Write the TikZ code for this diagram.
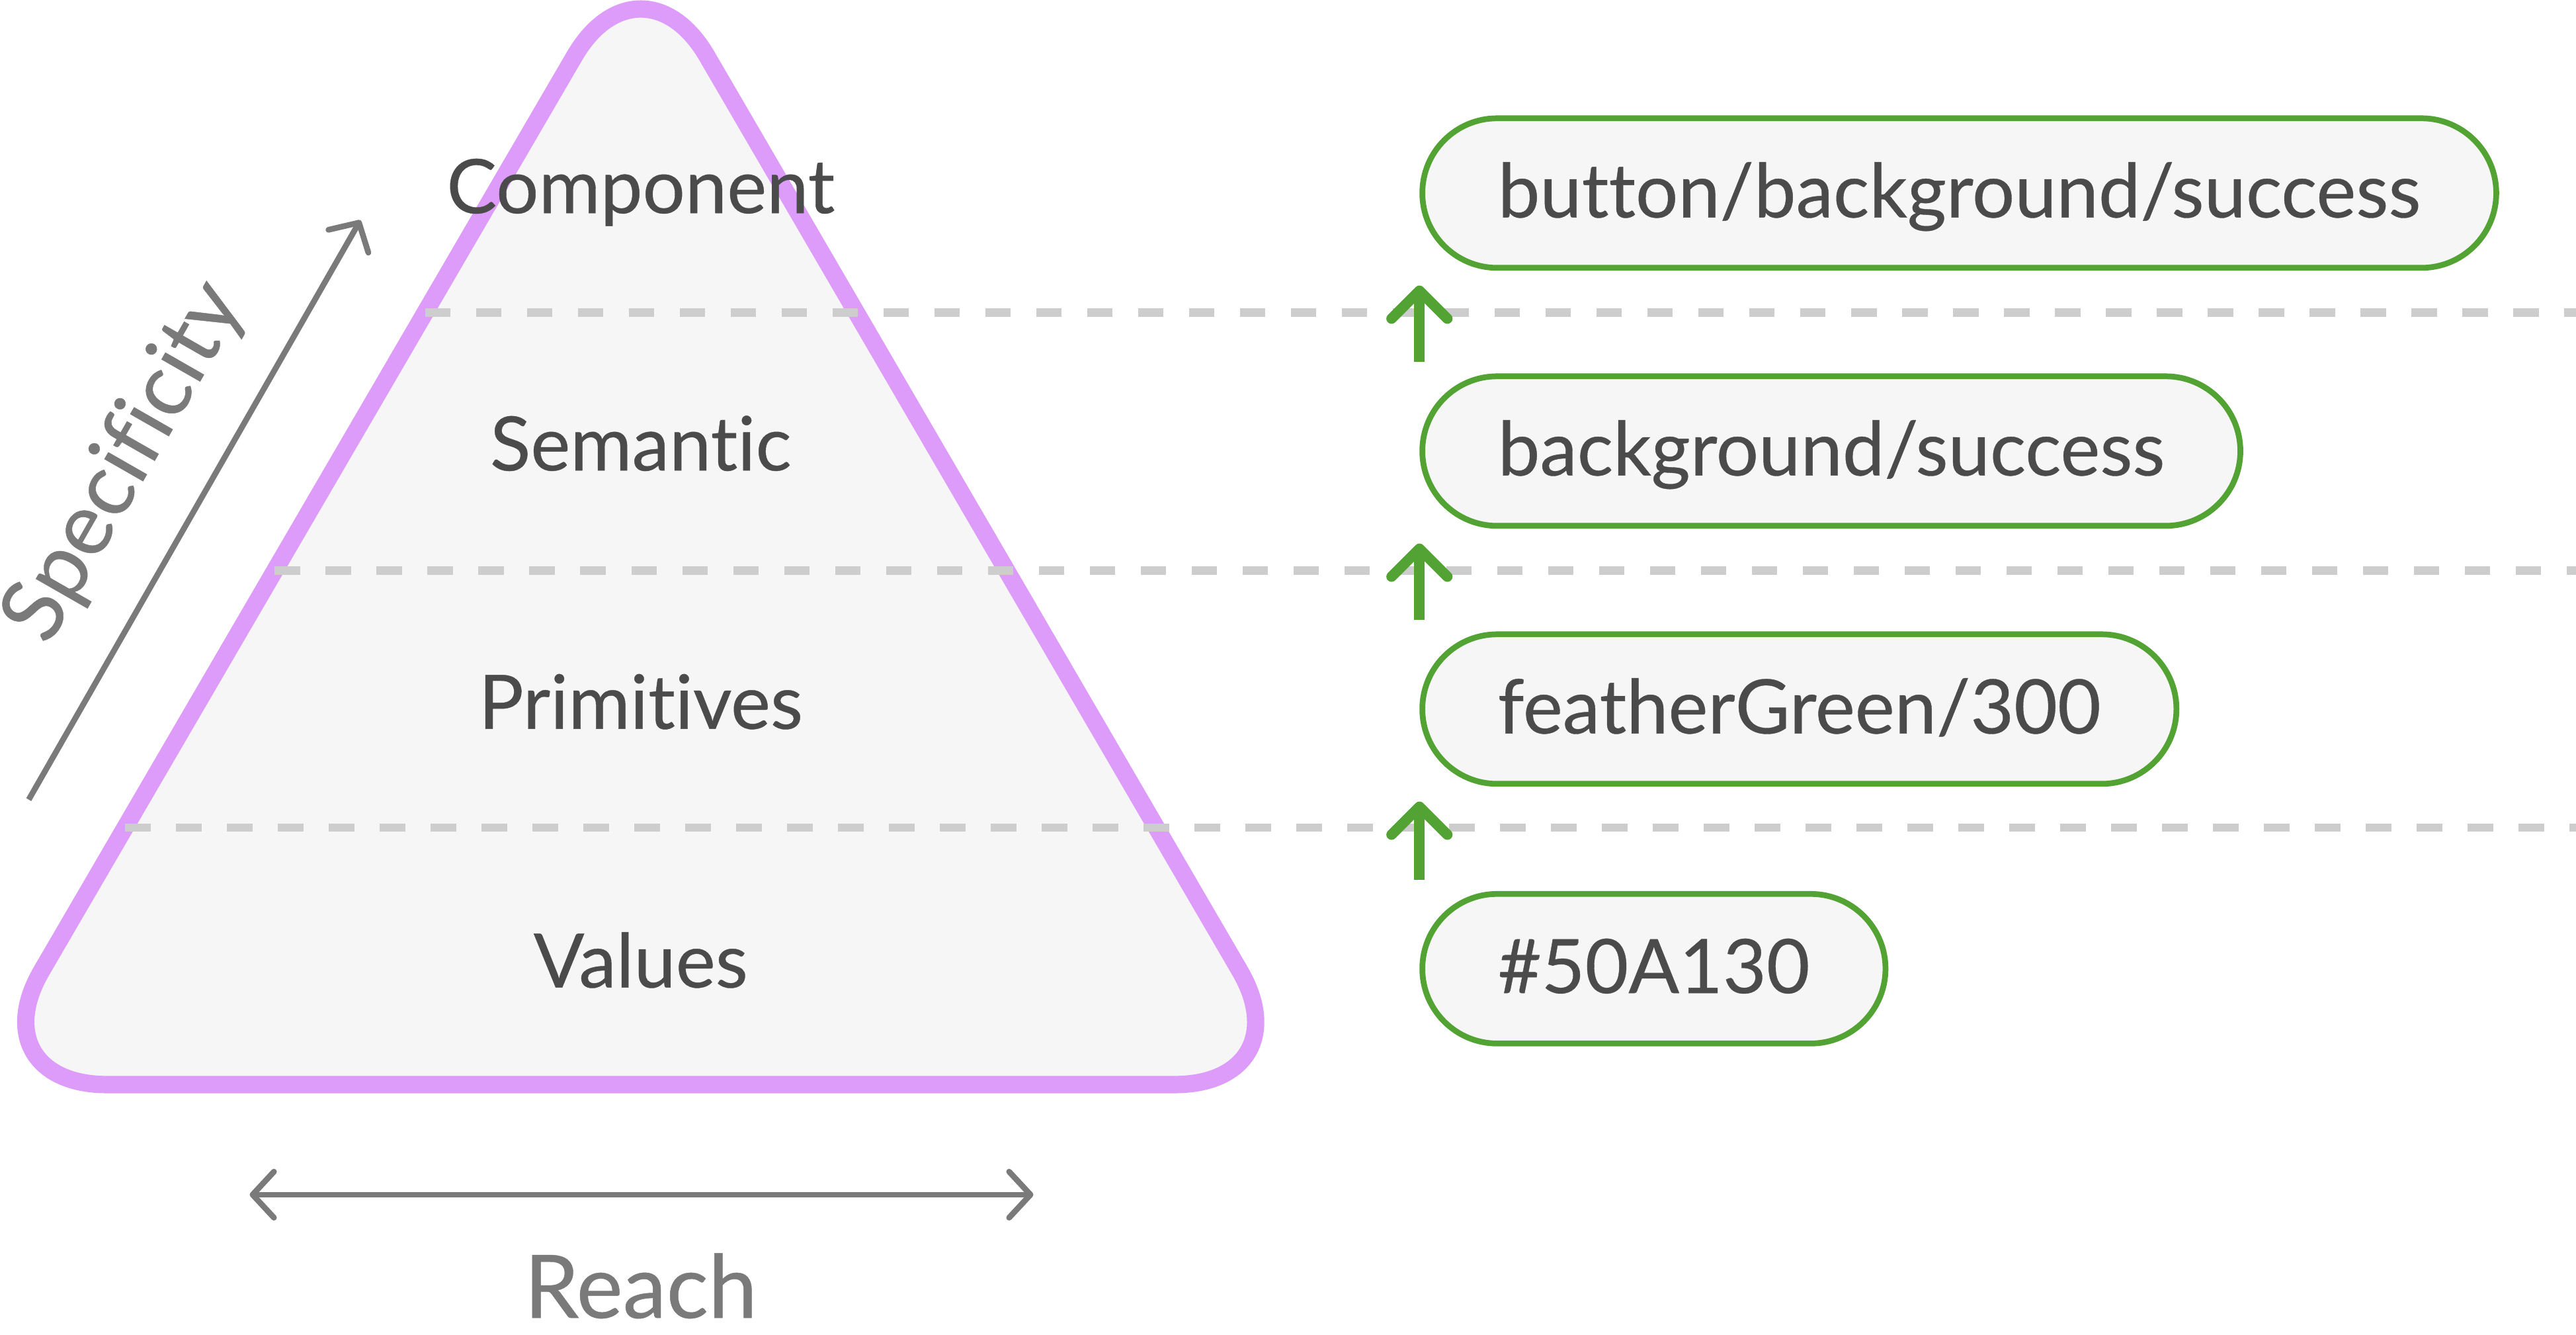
\documentclass[tikz,border=0pt]{standalone}
\usepackage{fontspec}
\setmainfont{Lato}[FakeBold=0.35, Ligatures=CommonOff]
\usetikzlibrary{arrows.meta,calc}

\definecolor{pyramidline}{HTML}{DD9BFA}
\definecolor{panelfill}{HTML}{F6F6F6}
\definecolor{tokengreen}{HTML}{52A333}
\definecolor{labeltext}{HTML}{4B4B4B}
\definecolor{axisgray}{HTML}{7A7A7A}
\definecolor{dashgray}{HTML}{CDCDCD}

\begin{document}
\begin{tikzpicture}[
    layer/.style={text=labeltext, font=\fontsize{13pt}{15pt}\selectfont, anchor=base, inner sep=0pt},
    token/.style={draw=tokengreen, fill=panelfill, line width=1pt, rounded corners=0.455cm, minimum height=0.91cm, inner xsep=0.46cm, inner ysep=0pt, anchor=west, text=labeltext, font=\fontsize{13pt}{15pt}\selectfont, text height=0.37cm, text depth=0.074cm},
    axis/.style={draw=axisgray, line width=1pt, >={Straight Barb[length=0.13cm, width=0.28cm, round]}},
    axislabel/.style={text=axisgray, font=\fontsize{15.2pt}{18pt}\selectfont, inner sep=0pt},
    uparrow/.style={draw=tokengreen, line width=1.8pt, -{Straight Barb[length=0.17cm, width=0.34cm, round]}, shorten <=0.07cm, shorten >=0.09cm},
    divider/.style={draw=dashgray, line width=0.05cm, dash pattern=on 0.155cm off 0.155cm}
]
    \useasboundingbox (0,0) rectangle (15.68,8.12);

    % Pyramid
    \coordinate (apex) at (3.90,8.47);
    \coordinate (bl) at (-0.15,1.52);
    \coordinate (br) at (7.95,1.52);
    \coordinate (edge) at (15.68,0);
    \draw[pyramidline, fill=panelfill, line width=3pt, rounded corners=0.8cm]
        ($(bl)!0.5!(br)$) -- (bl) -- (apex) -- (br) -- cycle;

    % Level dividers
    \foreach \k/\f in {1/0.225, 2/0.45, 3/0.676} {
        \coordinate (d\k) at ($(bl)!\f!(apex)$);
        \draw[divider] (d\k) -- (d\k -| edge);
    }

    % Level names
    \node[layer] (component) at (3.90,6.823) {Component};
    \node[layer] (semantic) at (3.90,5.257) {Semantic};
    \node[layer] (primitives) at (3.90,3.685) {Primitives};
    \node[layer] (values) at (3.90,2.111) {Values};

    % Axes
    \coordinate (specfrom) at (0.175,3.254);
    \coordinate (specto) at (2.194,6.78);
    \draw[axis, ->] (specfrom) -- (specto)
        node[axislabel, pos=0.51, sloped, above=0.25cm] (specificity) {Specificity};
    \coordinate (reachfrom) at (1.52,0.85);
    \coordinate (reachto) at (6.29,0.85);
    \draw[axis, <->] (reachfrom) -- (reachto);
    \node[axislabel, anchor=base] (reach) at (3.90,0.10) {Reach};

    % Token names
    \node[token] (comp) at (8.64,6.945) {button/background/success};
    \node[token] (sem) at (8.64,5.375) {background/success};
    \node[token] (prim) at (8.64,3.805) {featherGreen/300};
    \node[token] (hex) at (8.64,2.225) {\#50A130};

    % Arrows
    \draw[uparrow] (hex.north west) -- (prim.south west);
    \draw[uparrow] (prim.north west) -- (sem.south west);
    \draw[uparrow] (sem.north west) -- (comp.south west);

\end{tikzpicture}
\end{document}
